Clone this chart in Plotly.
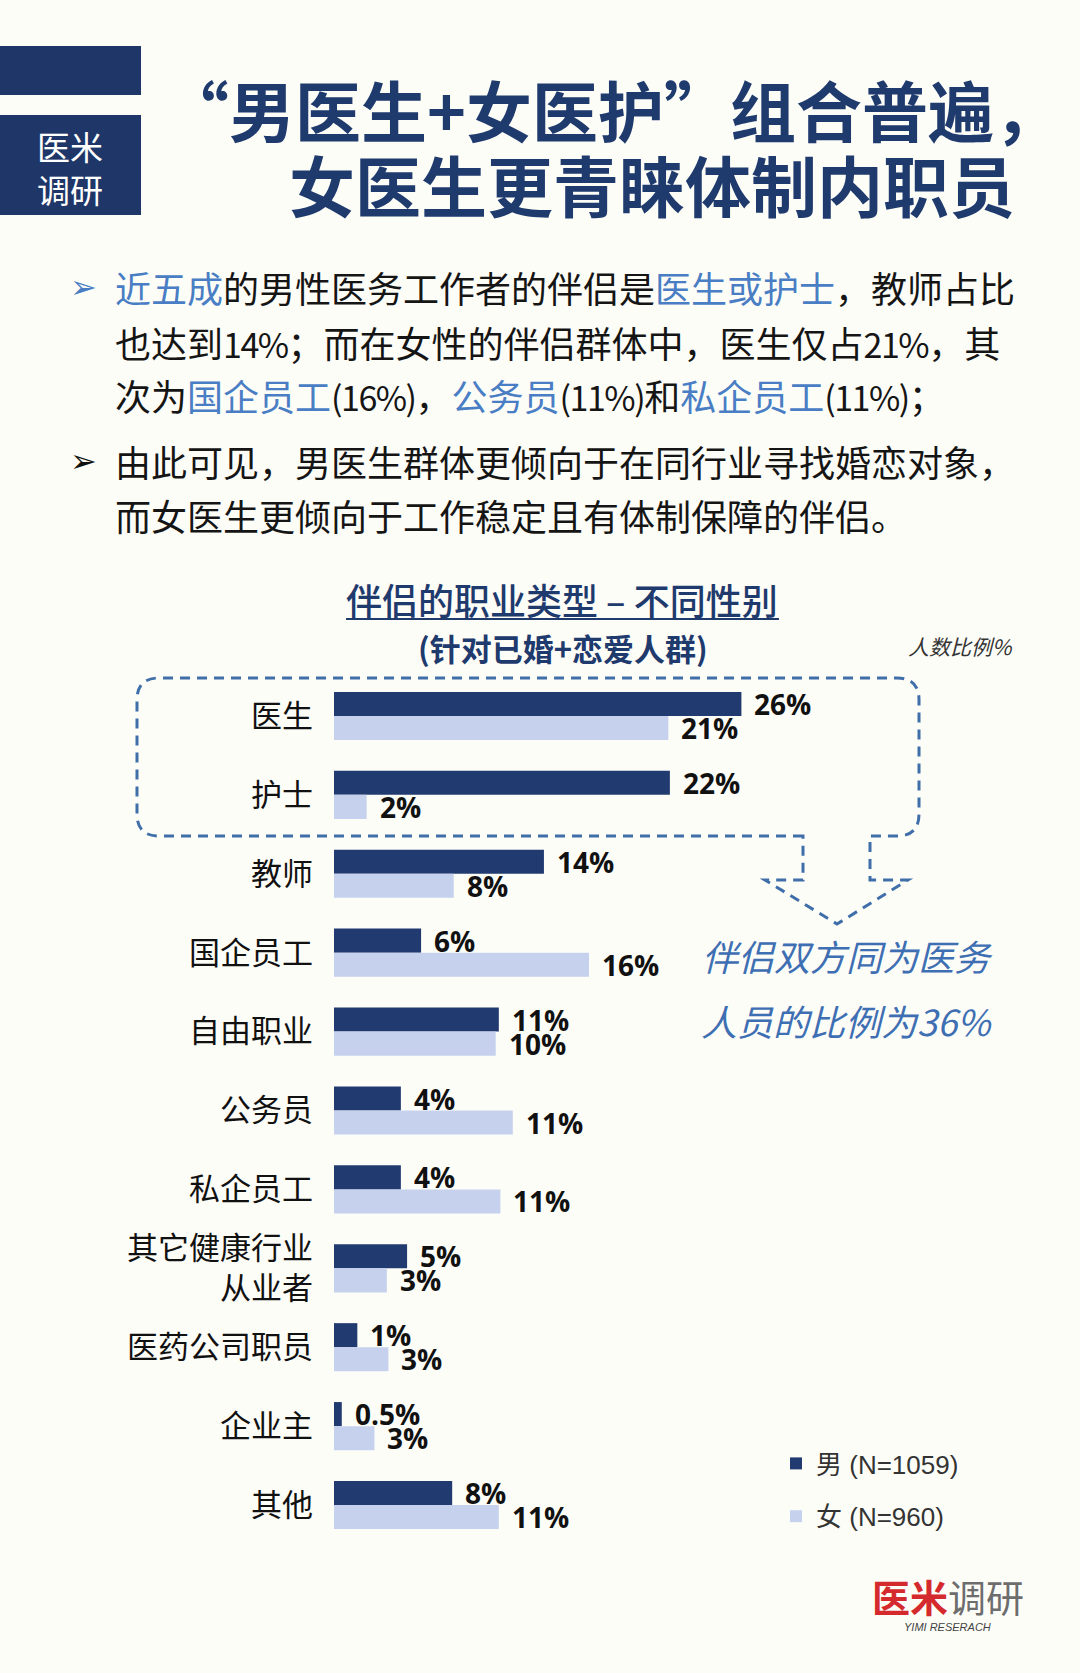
import plotly.graph_objects as go

# ---------------- data ----------------
categories = ["医生", "护士", "教师", "国企员工", "自由职业", "公务员", "私企员工",
              "其它健康行业从业者", "医药公司职员", "企业主", "其他"]
tick_labels = ["医生", "护士", "教师", "国企员工", "自由职业", "公务员", "私企员工",
               "其它健康行业<br>从业者", "医药公司职员", "企业主", "其他"]
# bar lengths (labels are the rounded figures printed on the chart)
male_values = [26.2, 21.6, 13.5, 5.6, 10.6, 4.3, 4.3, 4.7, 1.5, 0.5, 7.6]
female_values = [21.5, 2.1, 7.7, 16.4, 10.4, 11.5, 10.7, 3.4, 3.5, 2.6, 10.6]
male_labels = ["26%", "22%", "14%", "6%", "11%", "4%", "4%", "5%", "1%", "0.5%", "8%"]
female_labels = ["21%", "2%", "8%", "16%", "10%", "11%", "11%", "3%", "3%", "3%", "11%"]
male_name = "男 (N=1059)"
female_name = "女 (N=960)"

# ---------------- style ----------------
W, H = 1080, 1673
NAVY = "#1f3a6d"
MALE = "#213a6f"
FEMALE = "#c6d1ee"
BLUE = "#4a7ec4"
DASH = "#3f6ea8"
BG = "#fdfdf8"
CJK = "Noto Sans CJK SC"
SCALE = 15.55  # px per percent


def px(x):
    return x / W


def py(y):
    return 1 - y / H


fig = go.Figure()
fig.add_trace(go.Bar(y=categories, x=male_values, orientation="h", name=male_name,
                     marker=dict(color=MALE, line=dict(width=0)), legendgroup="m"))
fig.add_trace(go.Bar(y=categories, x=female_values, orientation="h", name=female_name,
                     marker=dict(color=FEMALE, line=dict(width=0)), legendgroup="f"))

annotations = []
# value labels
for c, v, t in zip(categories, male_values, male_labels):
    annotations.append(dict(x=v, y=c, xref="x", yref="y", text=t, showarrow=False,
                            xanchor="left", yanchor="middle", xshift=11, yshift=12,
                            font=dict(family="Open Sans", size=28, color="#111", weight=700)))
for c, v, t in zip(categories, female_values, female_labels):
    annotations.append(dict(x=v, y=c, xref="x", yref="y", text=t, showarrow=False,
                            xanchor="left", yanchor="middle", xshift=11, yshift=-12,
                            font=dict(family="Open Sans", size=28, color="#111", weight=700)))


def note(x, y, text, size, color="#111", anchor="center", family=CJK, weight=400, style="normal"):
    annotations.append(dict(x=px(x), y=py(y), xref="paper", yref="paper", text=text,
                            showarrow=False, xanchor=anchor, yanchor="middle",
                            font=dict(family=family, size=size, color=color, weight=weight, style=style)))


# header block
note(70, 167, "医米<br>调研", 33, "white")
note(611, 108, "“男医生+女医护”组合普遍，", 66, NAVY, weight=700)
note(652, 183, "女医生更青睐体制内职员", 66, NAVY, weight=700)


# bullets
def hl(t):
    return f"<span style='color:{BLUE}'>{t}</span>"


def num(t):
    # condensed-looking numbers as in the original
    return f"<span style='font-size:34px;letter-spacing:-1.5px'>{t}</span>"


note(83, 287, "➢", 32, BLUE, family="DejaVu Sans")
note(83, 461, "➢", 32, "#111", family="DejaVu Sans")
bullet_lines = [
    (287, hl("近五成") + "的男性医务工作者的伴侣是" + hl("医生或护士") + "，教师占比"),
    (342, "也达到" + num("14%") + "；而在女性的伴侣群体中，医生仅占" + num("21%") + "，其"),
    (395, "次为" + hl("国企员工") + num("(16%)") + "，" + hl("公务员") + num("(11%)") + "和" +
     hl("私企员工") + num("(11%)") + "；"),
    (461, "由此可见，男医生群体更倾向于在同行业寻找婚恋对象，"),
    (515, "而女医生更倾向于工作稳定且有体制保障的伴侣。"),
]
for y, t in bullet_lines:
    note(113, y, t, 36, "#151515", anchor="left")

# chart titles
note(562, 599, "伴侣的职业类型 – 不同性别", 36, NAVY, weight=500)
note(563, 648, "(针对已婚+恋爱人群)", 31, NAVY, weight=700)
note(906, 646, "人数比例%", 21, "#333", anchor="left", style="italic")

# callout
note(847, 955, "伴侣双方同为医务", 36, "#3f6fb3", style="italic")
note(847, 1020, "人员的比例为36%", 36, "#3f6fb3", style="italic")

# logo
note(948, 1595, "<b><span style='color:#d42a2e'>医米</span></b><span style='color:#6d6d6d'>调研</span>",
     38, "#6d6d6d")
note(947, 1627, "YIMI RESERACH", 11, "#444", family="Liberation Sans", style="italic")

# shapes
shapes = [
    dict(type="rect", xref="paper", yref="paper", x0=px(0), x1=px(141), y0=py(46), y1=py(95),
         fillcolor="#1e3768", line=dict(width=0), layer="below"),
    dict(type="rect", xref="paper", yref="paper", x0=px(0), x1=px(141), y0=py(115), y1=py(215),
         fillcolor="#1e3768", line=dict(width=0), layer="below"),
    dict(type="line", xref="paper", yref="paper", x0=px(346), x1=px(779), y0=py(619), y1=py(619),
         line=dict(color=NAVY, width=2)),
]


def P(x, y):
    return f"{px(x):.5f},{py(y):.5f}"


path = ("M" + P(803, 836) + " L" + P(159, 836) + " Q" + P(137, 836) + " " + P(137, 814) +
        " L" + P(137, 700) + " Q" + P(137, 678) + " " + P(159, 678) +
        " L" + P(897, 678) + " Q" + P(919, 678) + " " + P(919, 700) +
        " L" + P(919, 814) + " Q" + P(919, 836) + " " + P(897, 836) +
        " L" + P(870, 836) + " L" + P(870, 880) + " L" + P(908, 880) +
        " L" + P(837, 924) + " L" + P(765, 880) + " L" + P(803, 880) + " Z")
shapes.append(dict(type="path", xref="paper", yref="paper", path=path,
                   line=dict(color=DASH, width=3, dash="10px,7px")))

fig.update_layout(
    width=W, height=H, margin=dict(l=0, r=0, t=0, b=0),
    paper_bgcolor=BG, plot_bgcolor="rgba(0,0,0,0)",
    barmode="group", bargap=0.39, bargroupgap=0,
    xaxis=dict(domain=[px(334), px(334 + SCALE * 40)], range=[0, 40], visible=False),
    yaxis=dict(domain=[py(1544.5), py(676.5)], type="category", range=[10.5, -0.5],
               tickvals=categories, ticktext=tick_labels, ticks="", showline=False,
               showgrid=False, zeroline=False, ticklabelstandoff=20,
               tickfont=dict(family=CJK, size=31, color="#111")),
    legend=dict(x=px(776), y=py(1440), xanchor="left", yanchor="top",
                bgcolor="rgba(0,0,0,0)", tracegroupgap=16, traceorder="grouped",
                font=dict(family="Liberation Sans, Noto Sans CJK SC", size=26, color="#333")),
    showlegend=True,
    annotations=annotations, shapes=shapes,
)

fig.write_html("out.html", config={"displayModeBar": False},
               post_script="document.body.style.margin='0';"
                           "document.body.style.background='" + BG + "';")
